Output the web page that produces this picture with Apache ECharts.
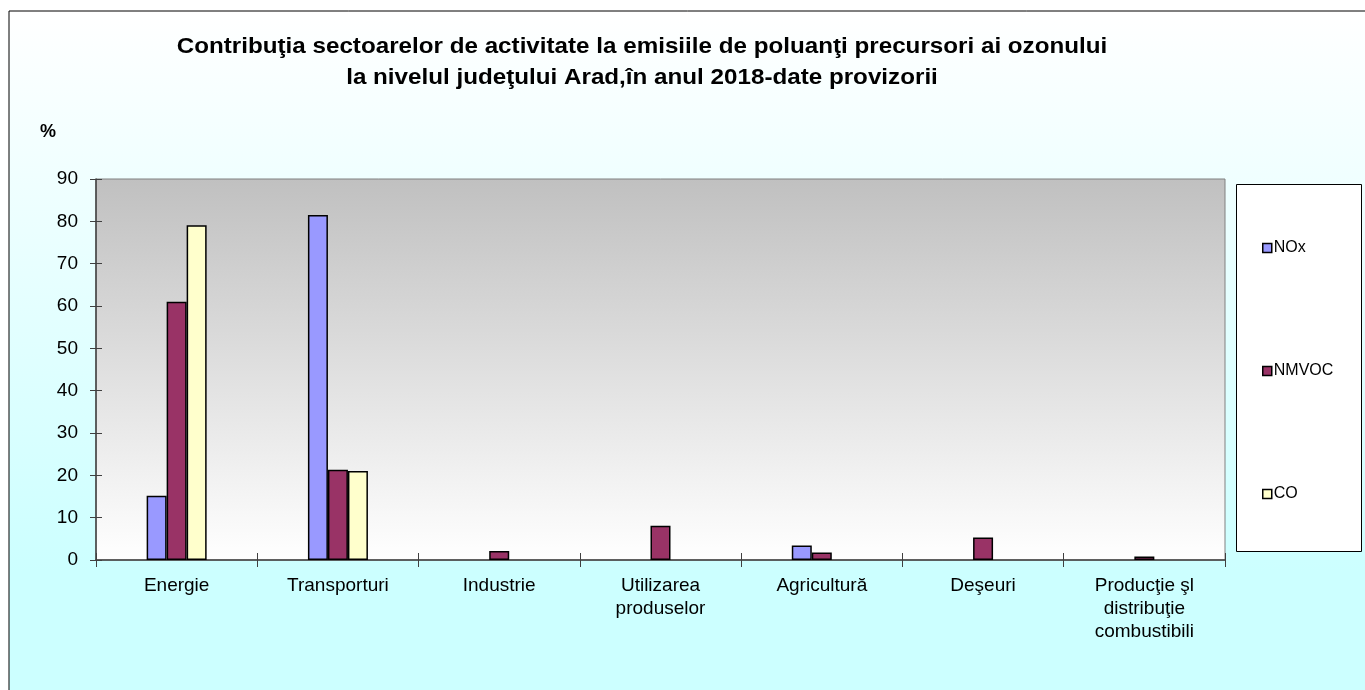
<!DOCTYPE html>
<html lang="ro">
<head>
    <meta charset="UTF-8">
    <title>Contributia sectoarelor - Arad 2018</title>
    <script src="https://cdn.jsdelivr.net/npm/echarts@6/dist/echarts.min.js"></script>
    <style>
        body { margin: 0; background: #fff; }
        #main { width: 1365px; height: 690px; }
    </style>
</head>
<body>
    <div id="main"></div>
    <script>
        var categories = ['Energie', 'Transporturi', 'Industrie', 'Utilizarea\nproduselor', 'Agricultură', 'Deşeuri', 'Producţie şl\ndistribuţie\ncombustibili'];
        var yTicks = [0, 10, 20, 30, 40, 50, 60, 70, 80, 90];
        // null = no bar drawn for that sector
        var noxValues = [15.2, 81.5, null, null, 3.4, null, null];
        var nmvocValues = [61.0, 21.3, 2.1, 8.1, 1.8, 5.3, 0.8];
        var coValues = [79.1, 21.0, null, null, null, null, null];

        var titleText = 'Contribuţia sectoarelor de activitate la emisiile de poluanţi precursori ai ozonului\nla nivelul judeţului Arad,în anul 2018-date provizorii';

        var myChart = echarts.init(document.getElementById('main'));

        var barBorder = { borderColor: '#000', borderWidth: 1.5 };
        var fontName = 'Liberation Sans, Arial';

        option = {
            animation: false,
            legend: {
                orient: 'vertical',
                left: 1262,
                top: 240,
                padding: 0,
                itemWidth: 9,
                itemHeight: 9,
                itemGap: 107,
                icon: 'rect',
                itemStyle: { borderColor: '#000', borderWidth: 1.5 },
                textStyle: { fontFamily: fontName, fontSize: 16, lineHeight: 16, color: '#000', padding: [0, 0, 0, -3] },
                data: ['NOx', 'NMVOC', 'CO']
            },
            graphic: [
                {
                    type: 'rect', z: -100,
                    shape: { x: 9, y: 11, width: 1370, height: 700 },
                    style: {
                        fill: new echarts.graphic.LinearGradient(0, 0, 0, 1, [
                            { offset: 0, color: '#ffffff' },
                            { offset: 0.8, color: '#ccffff' },
                            { offset: 1, color: '#ccffff' }
                        ]),
                        stroke: '#000', lineWidth: 1
                    }
                },
                {
                    type: 'rect', z: -50,
                    shape: { x: 1236.5, y: 184.5, width: 125, height: 367 },
                    style: { fill: '#fff', stroke: '#000', lineWidth: 1 }
                },
                {
                    // chart title, slightly stretched like the original
                    type: 'text', x: 642, y: 31, scaleX: 1.1,
                    style: {
                        text: titleText,
                        font: 'bold 22px Liberation Sans, Arial',
                        lineHeight: 31,
                        textAlign: 'center',
                        textVerticalAlign: 'top',
                        fill: '#000'
                    }
                },
                {
                    type: 'text', left: 40, top: 123,
                    style: { text: '%', font: 'bold 18px Liberation Sans, Arial', fill: '#000' }
                }
            ],
            grid: {
                left: 96, top: 179, right: 140, bottom: 130,
                show: true,
                borderColor: '#808080',
                borderWidth: 1,
                backgroundColor: new echarts.graphic.LinearGradient(0, 0, 0, 1, [
                    { offset: 0, color: '#c0c0c0' },
                    { offset: 1, color: '#ffffff' }
                ])
            },
            xAxis: [
                {
                    type: 'category',
                    data: categories,
                    axisLine: { lineStyle: { color: '#404040', width: 1.5 } },
                    axisTick: { show: true, length: 7, lineStyle: { color: '#404040' } },
                    axisLabel: { margin: 14, fontFamily: fontName, fontSize: 19, lineHeight: 23, color: '#000', interval: 0 }
                },
                {
                    type: 'category',
                    data: categories,
                    position: 'bottom',
                    axisLine: { show: false },
                    axisTick: { show: true, inside: true, length: 7, lineStyle: { color: '#404040' } },
                    axisLabel: { show: false }
                }
            ],
            yAxis: [
                {
                    type: 'value',
                    min: yTicks[0], max: yTicks[yTicks.length - 1], interval: 10,
                    splitLine: { show: false },
                    axisLine: { show: true, lineStyle: { color: '#404040', width: 1.5 } },
                    axisTick: { show: true, length: 6, lineStyle: { color: '#404040' } },
                    axisLabel: { margin: 18, fontFamily: fontName, fontSize: 19, color: '#000' }
                },
                {
                    type: 'value',
                    position: 'left',
                    min: yTicks[0], max: yTicks[yTicks.length - 1], interval: 10,
                    splitLine: { show: false },
                    axisLine: { show: false },
                    axisTick: { show: true, inside: true, length: 6, lineStyle: { color: '#404040' } },
                    axisLabel: { show: false }
                }
            ],
            series: [
                { name: 'NOx', type: 'bar', data: noxValues, barWidth: 20, barGap: '0%', itemStyle: Object.assign({ color: '#9999ff' }, barBorder) },
                { name: 'NMVOC', type: 'bar', data: nmvocValues, barWidth: 20, barGap: '0%', itemStyle: Object.assign({ color: '#993366' }, barBorder) },
                { name: 'CO', type: 'bar', data: coValues, barWidth: 20, barGap: '0%', itemStyle: Object.assign({ color: '#ffffcc' }, barBorder) }
            ]
        };

        myChart.setOption(option);
    </script>
</body>
</html>
